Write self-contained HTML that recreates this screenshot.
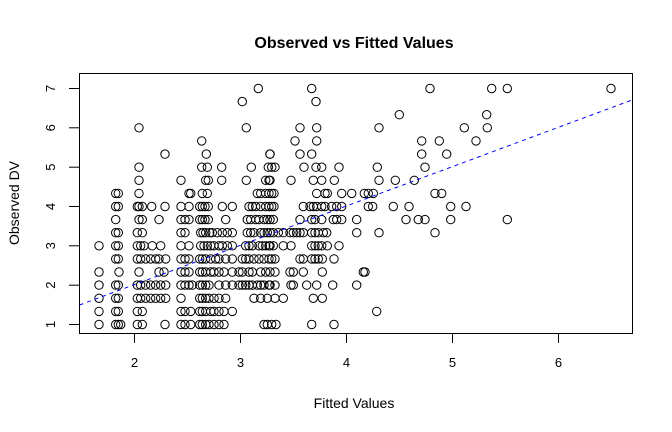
<!DOCTYPE html>
<html><head><meta charset="utf-8"><style>
html,body{margin:0;padding:0;background:#fff;}
svg{display:block;font-family:"Liberation Sans",sans-serif;}
</style></head><body>
<svg id="s" width="672" height="432" xmlns="http://www.w3.org/2000/svg">
<rect width="672" height="432" fill="#fff"/>
<text x="354" y="48" font-size="16" font-weight="bold" text-anchor="middle">Observed vs Fitted Values</text>
<text x="354" y="408" font-size="14" text-anchor="middle">Fitted Values</text>
<text transform="translate(19,203) rotate(-90)" font-size="14" text-anchor="middle">Observed DV</text>
<rect x="79.5" y="73.5" width="553" height="260" fill="none" stroke="#000" stroke-width="1"/>
<g stroke="#000" stroke-width="1">
<line x1="134.5" y1="333.5" x2="134.5" y2="343"/>
<line x1="240.5" y1="333.5" x2="240.5" y2="343"/>
<line x1="346.5" y1="333.5" x2="346.5" y2="343"/>
<line x1="452.5" y1="333.5" x2="452.5" y2="343"/>
<line x1="558.5" y1="333.5" x2="558.5" y2="343"/>
<line x1="69" y1="324.5" x2="79.5" y2="324.5"/>
<line x1="69" y1="285.2" x2="79.5" y2="285.2"/>
<line x1="69" y1="245.8" x2="79.5" y2="245.8"/>
<line x1="69" y1="206.5" x2="79.5" y2="206.5"/>
<line x1="69" y1="167.2" x2="79.5" y2="167.2"/>
<line x1="69" y1="127.8" x2="79.5" y2="127.8"/>
<line x1="69" y1="88.5" x2="79.5" y2="88.5"/>
</g>
<g font-size="13" text-anchor="middle">
<text x="134.5" y="367">2</text><text x="240.5" y="367">3</text><text x="346.5" y="367">4</text><text x="452.5" y="367">5</text><text x="558.5" y="367">6</text>
</g>
<g font-size="13" text-anchor="middle">
<text transform="translate(55,324.5) rotate(-90)">1</text>
<text transform="translate(55,285.2) rotate(-90)">2</text>
<text transform="translate(55,245.8) rotate(-90)">3</text>
<text transform="translate(55,206.5) rotate(-90)">4</text>
<text transform="translate(55,167.2) rotate(-90)">5</text>
<text transform="translate(55,127.8) rotate(-90)">6</text>
<text transform="translate(55,88.5) rotate(-90)">7</text>
</g>
<g id="pts" fill="none" stroke="#000" stroke-width="1"></g>
<line x1="79.5" y1="305" x2="632" y2="100" stroke="#0000ff" stroke-width="1" stroke-dasharray="4,4"/>
</svg>
<script>
var z1={0:[538],1:[490],3:[180,502],4:[368],5:[258,382,573],6:[180,368,385,428,517,568],
7:[180,306,380,388,428,502,560,570],8:[110,118,180,330,335,370,385,535,545,560,570],
9:[110,118,175,180,190,218,258,306,330,362,370,378,388,430,460,510,520,530,545,560,570],
10:[110,180,190,240,306,318,330,362,370,378,388,440,505,515,530,540,555,565],
11:[110,118,175,190,306,318,365,372,380,392,400,415,430,445,460,505,515,525,545,555,565],
12:[60,110,118,175,185,195,220,245,306,330,365,375,385,395,405,420,430,445,460,500,510,520,540,550,560,570],
13:[110,118,175,185,200,215,230,240,260,306,318,330,362,370,380,395,410,420,440,460,490,500,510,525,540,555,570],
14:[60,120,180,240,255,306,318,330,362,370,380,395,405,420,435,460,480,490,510,520,545,560],
15:[60,110,118,175,185,200,215,230,245,260,306,318,330,340,362,370,380,390,420,440,460,480,490,500,510,520,535,545,555,570],
16:[60,110,118,175,185,200,215,230,245,260,306,362,370,380,390,405,420,440,525,545,565],
17:[60,110,118,175,190,306,318,335,362,370,380,395,405,420,435,460],
18:[60,110,118,125,175,190,258,306,318,335,362,370,380,390,405,420,435,555,565]};
var z2={0:[125,480],1:[138],2:[388],3:[90,140,327],4:[75,140,455,508],5:[0,90,125,455],
6:[5,15,102,138,155,207,322,465],7:[0,63,130,155,193,327,376,433],
8:[5,12,140,165,172,215,245,283,295,310,495],
9:[5,12,100,120,130,140,155,165,185,200,215,295,308,370,417],
10:[0,10,90,125,135,155,190,200,215,260,408,445,465],
11:[0,10,25,40,60,70,80,90,100,125,135,145,160,170,260,327,495],
12:[0,10,40,63,125,135,145,155,172,207],13:[5,15,90,100,125,135,145,157,192],
14:[0,15,60,70,100,157,280,285],15:[0,15,63,70,110,140,188,260],16:[15,40,130,157],17:[320],18:[5,18,125,192]};
var z3={0:[155,202,513],2:[140],3:[73,142],4:[108],5:[20],8:[5],9:[32,78],10:[32,202]};
var g=document.getElementById('pts'),h='';
function add(o,off){for(var k in o){var y=88.5+k*13.11;o[k].forEach(function(zx){var x=off+zx/3;h+='<circle cx="'+x.toFixed(1)+'" cy="'+y.toFixed(1)+'" r="4.2"/>';});}}
add(z1,79);add(z2,270);add(z3,440);
g.innerHTML=h;
</script>
</body></html>
